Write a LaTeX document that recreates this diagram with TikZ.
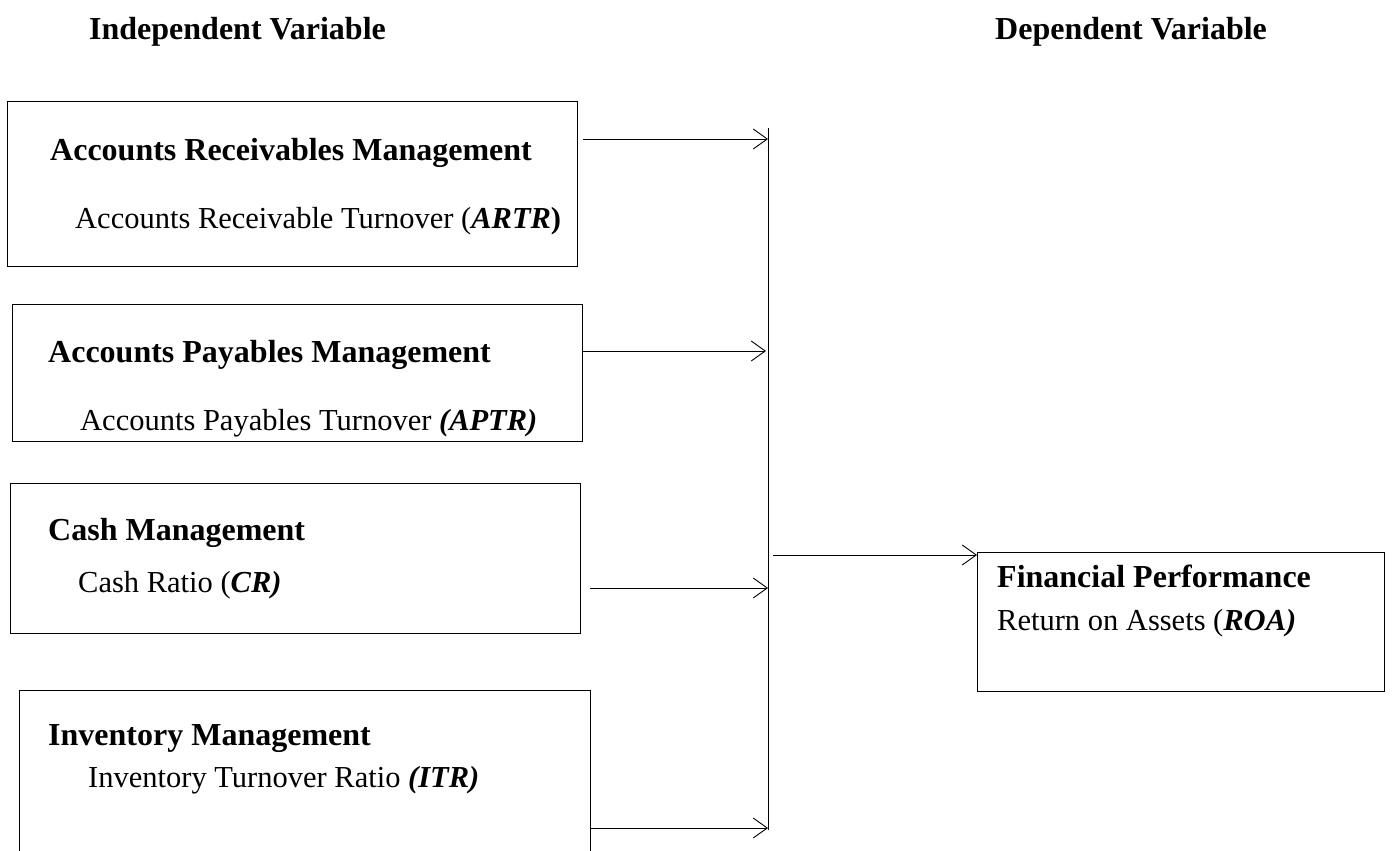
\documentclass[tikz,border=0pt]{standalone}
\usepackage{fontspec}
\setmainfont{Liberation Serif}
\usetikzlibrary{arrows.meta}
\begin{document}
\begin{tikzpicture}[x=1pt,y=-1pt,
  box/.style={draw=black,line width=0.9pt,rectangle,inner sep=0pt,anchor=north west},
  hd/.style={anchor=base west,inner sep=0pt,font=\fontsize{32}{38}\selectfont\bfseries},
  sub/.style={anchor=base west,inner sep=0pt,font=\fontsize{30.5}{36}\selectfont},
  top/.style={anchor=base west,inner sep=0pt,font=\fontsize{32}{38}\selectfont\bfseries},
  conn/.style={draw=black,line width=0.9pt,-{Straight Barb[length=14pt,width=20pt,line width=0.9pt]}},
  bar/.style={draw=black,line width=0.9pt}]
\useasboundingbox (0,0) rectangle (1392,851);
% headers
\node[top] (hIndep) at (89,40) {Independent Variable};
\node[top] (hDep) at (995,40) {Dependent Variable};
% boxes
\node[box,minimum width=570pt,minimum height=165pt] (b1) at (7,101) {};
\node[hd] (t1) at (50,160) {Accounts Receivables Management};
\node[sub] (s1) at (75,228) {Accounts Receivable Turnover (\textbf{\textit{ARTR}}\textbf{)}};
\node[box,minimum width=570pt,minimum height=137pt] (b2) at (12,304) {};
\node[hd] (t2) at (48,362) {Accounts Payables Management};
\node[sub] (s2) at (80,430) {Accounts Payables Turnover \textbf{\textit{(APTR)}}};
\node[box,minimum width=570pt,minimum height=150pt] (b3) at (10,483) {};
\node[hd] (t3) at (48,540) {Cash Management};
\node[sub] (s3) at (78,592) {Cash Ratio (\textbf{\textit{CR)}}};
\node[box,minimum width=571pt,minimum height=168pt] (b4) at (19,690) {};
\node[hd] (t4) at (48,745) {Inventory Management};
\node[sub] (s4) at (88,787) {Inventory Turnover Ratio \textbf{\textit{(ITR)}}};
\node[box,minimum width=407pt,minimum height=139pt] (b5) at (977,552) {};
\node[hd] (t5) at (997,587) {Financial Performance};
\node[sub] (s5) at (997,630) {Return on Assets (\textbf{\textit{ROA)}}};
% vertical collector
\coordinate (vTop) at (768,128);
\coordinate (vBot) at (768,830);
\draw[bar] (vTop) -- (vBot);
% arrow start and end points
\coordinate (a1) at (583,139);  \coordinate (e1) at (768,139);
\coordinate (a2) at (583,351);  \coordinate (e2) at (766,351);
\coordinate (a3) at (590,588);  \coordinate (e3) at (768,588);
\coordinate (a4) at (590,828);  \coordinate (e4) at (768,828);
\coordinate (a5) at (773,555);
\draw[conn] (a1) -- (e1);
\draw[conn] (a2) -- (e2);
\draw[conn] (a3) -- (e3);
\draw[conn] (a4) -- (e4);
\draw[conn] (a5) -- (b5.west |- a5);
\end{tikzpicture}
\end{document}
